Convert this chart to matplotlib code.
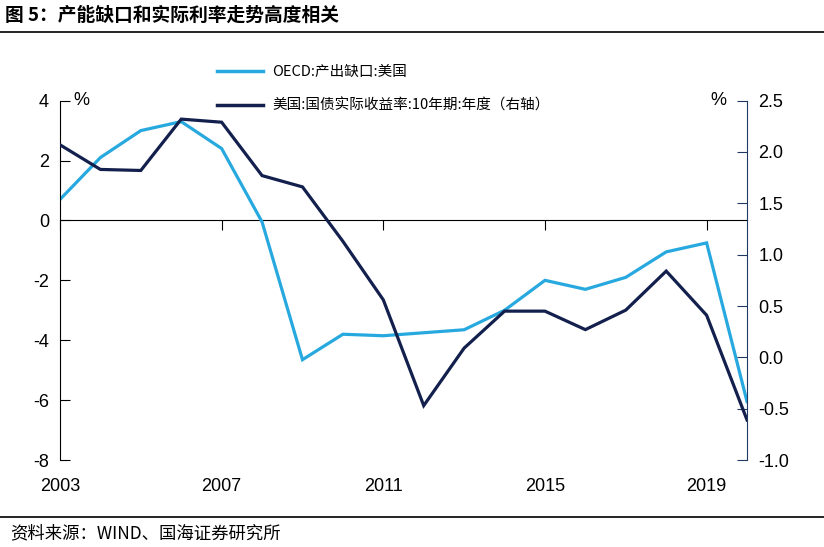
import matplotlib
matplotlib.use("Agg")
import matplotlib.pyplot as plt
from matplotlib.lines import Line2D

years = list(range(2003, 2021))
output_gap = [0.7, 2.1, 3.0, 3.3, 2.4, -0.05, -4.65, -3.8, -3.85, -3.75,
              -3.65, -3.0, -2.0, -2.3, -1.9, -1.05, -0.75, -6.05]
real_yield = [2.07, 1.83, 1.82, 2.32, 2.29, 1.77, 1.66, 1.13, 0.56, -0.47,
              0.09, 0.45, 0.45, 0.27, 0.46, 0.84, 0.41, -0.61]
x_ticks = [2003, 2007, 2011, 2015, 2019]
left_ticks = [-8, -6, -4, -2, 0, 2, 4]
right_ticks = [-1.0, -0.5, 0.0, 0.5, 1.0, 1.5, 2.0, 2.5]

LIGHT = "#27a9df"
DARK = "#13204d"
AXIS = "#1f3864"

plt.rcParams["font.family"] = ["Liberation Sans", "Noto Sans CJK SC", "DejaVu Sans"]
plt.rcParams["axes.unicode_minus"] = False
CJK = ["Noto Sans CJK SC", "DejaVu Sans"]

fig = plt.figure(figsize=(8.24, 5.47), dpi=100)
ax = fig.add_axes([0.0728, 0.159, 0.8338, 0.657])
ax2 = ax.twinx()

ax.plot(years, output_gap, color=LIGHT, lw=2.3, solid_joinstyle="miter")
ax2.plot(years, real_yield, color=DARK, lw=2.3, solid_joinstyle="miter")

ax.set_xlim(2003, 2020)
ax.set_ylim(-8, 4)
ax2.set_ylim(-1.0, 2.5)
ax.set_yticks(left_ticks)
ax2.set_yticks(right_ticks)
ax2.set_yticklabels([f"{v:.1f}" for v in right_ticks])

for s in ["top", "bottom", "right"]:
    ax.spines[s].set_visible(False)
for s in ["top", "bottom", "left"]:
    ax2.spines[s].set_visible(False)
ax.spines["left"].set_color("black")
ax2.spines["right"].set_color(AXIS)

ax.tick_params(axis="y", direction="in", length=7, labelsize=13, pad=8)
ax2.tick_params(axis="y", direction="in", length=7, labelsize=13, pad=8,
                color=AXIS)

# x labels at the bottom, tick marks on the zero line
ax.set_xticks(x_ticks)
ax.tick_params(axis="x", length=0, labelsize=13, pad=13)
sec = ax.secondary_xaxis(2 / 3)
sec.set_xticks(x_ticks)
sec.set_xticklabels([])
sec.tick_params(axis="x", direction="in", length=7, color="black")
sec.spines["bottom"].set_color("black")

ax.text(0.02, 1.0, "%", transform=ax.transAxes, fontsize=13, va="center")
ax.text(0.97, 1.0, "%", transform=ax.transAxes, fontsize=13, va="center",
        ha="right")

handles = [Line2D([], [], color=LIGHT, lw=2.5), Line2D([], [], color=DARK, lw=2.5)]
labels = ["OECD:产出缺口:美国", "美国:国债实际收益率:10年期:年度（右轴）"]
fig.legend(handles, labels, loc="upper left", bbox_to_anchor=(0.247, 0.905),
           frameon=False, prop={"family": CJK, "size": 10.5},
           handlelength=3.2, handletextpad=0.6, labelspacing=1.35)

fig.text(0.006, 0.972, "图 5：产能缺口和实际利率走势高度相关", family=CJK,
         fontsize=13.5, fontweight="bold", va="center")
fig.add_artist(Line2D([0, 1], [0.942, 0.942], color="black", lw=1.2,
                      transform=fig.transFigure))
fig.add_artist(Line2D([0, 1], [0.055, 0.055], color="black", lw=1.2,
                      transform=fig.transFigure))
fig.text(0.012, 0.025, "资料来源：WIND、国海证券研究所", family=CJK,
         fontsize=12.5, va="center")

fig.savefig("out.png", dpi=100)
